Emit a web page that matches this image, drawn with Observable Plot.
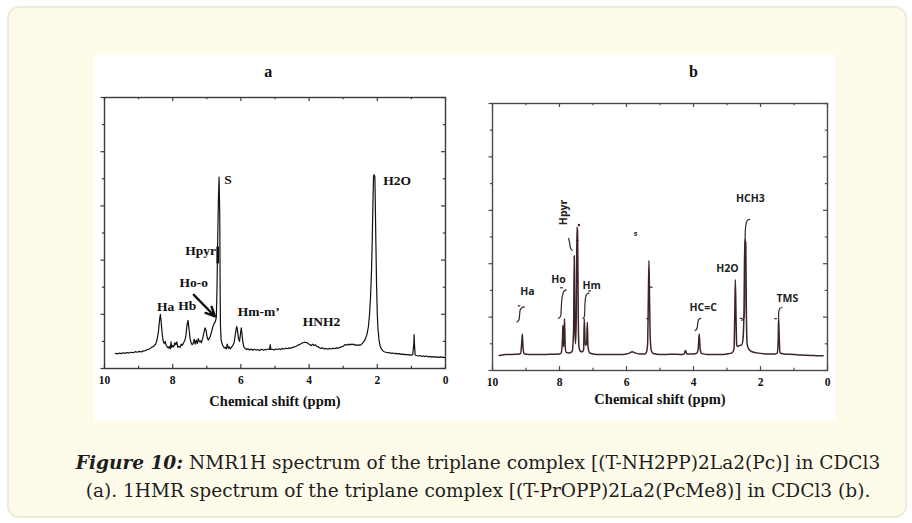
<!DOCTYPE html>
<html>
<head>
<meta charset="utf-8">
<script src="https://cdn.jsdelivr.net/npm/d3@7"></script>
<script src="https://cdn.jsdelivr.net/npm/@observablehq/plot@0.6"></script>
<style>
  html, body { margin: 0; padding: 0; background: #ffffff; }
  body { width: 912px; height: 523px; position: relative; overflow: hidden; }
  #box { position: absolute; left: 7px; top: 6px; width: 900px; height: 512px; box-sizing: border-box;
         background: #fffbea; border: 2px solid #eeebde; border-radius: 12px; }
  #panel { position: absolute; left: 94px; top: 55px; width: 741px; height: 366px; background: #ffffff; }
  #pa { position: absolute; left: 94px; top: 55px; }
  #pb { position: absolute; left: 464px; top: 55px; }
  #cap { position: absolute; left: 0px; width: 956px; top: 449px; text-align: center; color: #1e1e1e;
         font-family: "DejaVu Serif", serif; font-size: 17px; line-height: 28px; }
  #cap div { white-space: nowrap; }
</style>
</head>
<body>
<div id="box"></div>
<div id="panel"></div>
<div id="pa"></div>
<div id="pb"></div>
<div id="cap">
  <div id="l1"><b><i>Figure 10:</i></b> NMR1H spectrum of the triplane complex [(T-NH2PP)2La2(Pc)] in CDCl3</div>
  <div id="l2">(a). 1HMR spectrum of the triplane complex [(T-PrOPP)2La2(PcMe8)] in CDCl3 (b).</div>
</div>
<script>
// ---------- shared axis data ----------
const xMajor = [10, 8, 6, 4, 2, 0];
const xMinor = [9, 7, 5, 3, 1];
const yMajor = [0, 2, 4, 6, 8, 10];
const yMinor = [1, 3, 5, 7, 9];
const axisTitle = "Chemical shift (ppm)";

// ---------- panel a: spectrum ----------
const ppmA = [9.68,9.62,9.56,9.50,9.45,9.40,9.34,9.28,9.22,9.16,9.10,9.04,8.98,8.92,8.86,8.80,8.74,8.68,8.62,8.56,
8.50,8.46,8.42,8.38,8.36,8.34,8.31,8.28,8.25,8.22,8.19,8.16,8.13,8.10,8.07,8.05,8.03,8.00,7.97,7.94,
7.91,7.88,7.85,7.82,7.78,7.75,7.72,7.68,7.64,7.61,7.58,7.55,7.52,7.49,7.46,7.43,7.40,7.37,7.34,7.31,
7.28,7.25,7.22,7.19,7.16,7.12,7.08,7.05,7.02,6.99,6.96,6.93,6.90,6.86,6.82,6.78,6.75,6.72,6.70,6.68,
6.66,6.64,6.62,6.61,6.60,6.58,6.55,6.52,6.49,6.46,6.43,6.40,6.37,6.34,6.31,6.28,6.24,6.20,6.17,6.14,
6.12,6.10,6.07,6.04,6.02,5.99,5.97,5.94,5.91,5.87,5.83,5.79,5.75,5.70,5.65,5.60,5.55,5.50,5.45,5.40,
5.35,5.30,5.25,5.20,5.16,5.14,5.12,5.08,5.03,4.98,4.93,4.88,4.83,4.78,4.73,4.68,4.63,4.58,4.53,4.48,
4.43,4.38,4.33,4.28,4.23,4.18,4.13,4.08,4.03,3.98,3.94,3.90,3.86,3.82,3.78,3.74,3.70,3.65,3.60,3.55,
3.50,3.45,3.40,3.35,3.30,3.25,3.20,3.15,3.10,3.05,3.00,2.95,2.90,2.86,2.82,2.78,2.74,2.70,2.66,2.62,
2.58,2.54,2.50,2.46,2.42,2.38,2.34,2.30,2.26,2.23,2.20,2.17,2.15,2.13,2.11,2.09,2.07,2.06,2.04,2.02,
2.00,1.98,1.95,1.92,1.88,1.84,1.80,1.75,1.70,1.65,1.60,1.55,1.50,1.45,1.40,1.35,1.30,1.25,1.20,1.15,
1.10,1.05,1.00,0.96,0.93,0.92,0.91,0.89,0.85,0.80,0.75,0.70,0.65,0.60,0.55,0.50,0.45,0.40,0.35,0.30,
0.25,0.20,0.15,0.10,0.05,0.03];
const intA = [0.56,0.54,0.57,0.55,0.58,0.56,0.59,0.57,0.60,0.58,0.62,0.60,0.63,0.61,0.65,0.66,0.70,0.72,0.78,0.82,
0.90,1.05,1.35,1.85,2.00,1.75,1.30,1.02,0.92,1.00,0.85,0.80,0.75,0.82,0.72,0.98,0.78,0.85,0.80,0.95,
0.88,0.98,0.78,0.82,0.78,0.90,0.85,0.95,1.05,1.25,1.60,1.78,1.45,1.10,0.95,0.88,0.92,1.08,0.90,1.05,
0.92,1.10,0.98,1.02,0.95,1.12,1.35,1.50,1.40,1.15,1.05,1.10,1.18,1.35,1.55,1.68,1.72,1.90,3.00,4.80,
6.20,7.06,5.60,3.20,1.60,1.05,0.90,0.82,0.76,0.78,0.72,0.90,0.74,0.80,0.72,0.78,0.84,0.95,1.20,1.45,
1.55,1.40,1.10,1.00,1.20,1.50,1.30,0.95,0.78,0.74,0.70,0.73,0.68,0.72,0.67,0.71,0.68,0.70,0.66,0.71,
0.68,0.70,0.69,0.72,0.70,0.88,0.70,0.71,0.68,0.72,0.70,0.73,0.70,0.74,0.72,0.75,0.73,0.76,0.75,0.78,
0.80,0.82,0.86,0.88,0.92,0.95,0.97,0.96,0.92,0.88,0.84,0.90,0.85,0.88,0.82,0.80,0.77,0.74,0.76,0.72,
0.74,0.71,0.74,0.72,0.75,0.73,0.76,0.75,0.78,0.80,0.82,0.88,0.86,0.90,0.87,0.90,0.88,0.90,0.86,0.88,
0.85,0.87,0.86,0.90,0.95,1.02,1.12,1.28,1.55,1.95,2.60,3.60,4.60,6.00,7.10,7.15,7.05,6.20,4.50,3.00,
2.00,1.45,1.05,0.85,0.72,0.66,0.62,0.60,0.58,0.59,0.56,0.57,0.55,0.56,0.54,0.55,0.52,0.53,0.51,0.52,
0.50,0.51,0.49,0.52,0.90,1.25,0.90,0.50,0.48,0.46,0.48,0.45,0.46,0.44,0.46,0.43,0.45,0.42,0.44,0.42,
0.43,0.41,0.43,0.41,0.42,0.40];

// panel a annotations
const labA = ["Ha", "Hb", "Ho-o", "Hpyr", "S", "Hm-m\u2019", "HNH2", "H2O"];
const labAx = [8.21, 7.57, 7.38, 7.18, 6.38, 5.48, 3.64, 1.42];
const labAy = [2.29, 2.32, 3.15, 4.35, 6.96, 2.08, 1.73, 6.94];
const arrowA = {x1: 7.38, y1: 2.72, x2: 6.76, y2: 1.92};
const barA = {x: 6.68, y1: 3.86, y2: 4.48};

// ---------- panel b: spectrum ----------
const ppmB = [9.80,9.70,9.60,9.50,9.40,9.30,9.20,9.16,9.13,9.11,9.09,9.06,9.00,8.80,8.60,8.40,8.20,8.00,7.95,7.91,
7.90,7.88,7.86,7.85,7.83,7.80,7.70,7.62,7.58,7.56,7.54,7.52,7.50,7.48,7.46,7.44,7.42,7.38,7.32,7.28,
7.26,7.23,7.19,7.17,7.15,7.10,7.00,6.80,6.60,6.40,6.20,6.00,5.90,5.83,5.75,5.60,5.45,5.40,5.37,5.35,
5.33,5.31,5.29,5.26,5.20,5.00,4.80,4.60,4.40,4.28,4.24,4.20,4.00,3.90,3.86,3.83,3.80,3.76,3.60,3.40,
3.20,3.00,2.85,2.79,2.77,2.75,2.73,2.71,2.68,2.62,2.56,2.52,2.49,2.47,2.44,2.42,2.40,2.35,2.25,2.10,
1.90,1.70,1.55,1.50,1.47,1.46,1.44,1.42,1.30,1.00,0.80,0.60,0.40,0.20,0.13];
const intB = [0.56,0.58,0.60,0.60,0.60,0.61,0.62,0.64,1.00,1.37,0.90,0.64,0.61,0.60,0.60,0.60,0.61,0.62,0.66,1.20,
1.69,0.90,1.50,1.94,0.90,0.68,0.66,0.72,1.50,4.30,1.50,1.00,2.00,5.37,5.20,2.00,0.90,0.72,0.70,0.78,
1.94,0.95,1.00,1.81,0.90,0.66,0.62,0.60,0.60,0.60,0.60,0.62,0.66,0.70,0.66,0.62,0.62,0.70,1.00,2.50,
4.12,2.50,1.20,0.75,0.64,0.60,0.60,0.61,0.60,0.62,0.75,0.62,0.62,0.65,0.80,1.37,0.80,0.64,0.60,0.60,
0.60,0.62,0.66,0.80,2.00,3.40,2.00,0.95,0.90,0.94,0.96,1.20,2.50,4.90,4.80,2.00,1.00,0.80,0.70,0.66,
0.63,0.62,0.62,0.66,1.20,2.00,1.20,0.66,0.62,0.60,0.58,0.57,0.56,0.55,0.55];

// panel b integral curves (ppm, intensity) grouped by peak
const intgName = ["Ha","Ha","Ha","Ha","Ha","Ha",
  "Ho","Ho","Ho","Ho","Ho","Ho",
  "Hpyr","Hpyr","Hpyr","Hpyr",
  "Hm","Hm","Hm","Hm","Hm","Hm",
  "HC","HC","HC","HC","HC",
  "CH3","CH3","CH3","CH3","CH3","CH3","CH3","CH3",
  "TMS","TMS","TMS","TMS"];
const intgX = [9.27,9.21,9.19,9.17,9.11,9.05,
  8.03,7.97,7.95,7.92,7.87,7.80,
  7.73,7.70,7.67,7.62,
  7.30,7.26,7.24,7.21,7.17,7.12,
  3.95,3.90,3.87,3.84,3.78,
  2.56,2.50,2.47,2.46,2.45,2.42,2.37,2.32,
  1.46,1.45,1.42,1.36];
const intgY = [1.82,1.90,2.10,2.28,2.36,2.38,
  1.95,2.02,2.30,2.75,2.96,3.02,
  4.95,4.80,4.58,4.50,
  1.94,2.02,2.50,2.80,2.88,2.90,
  1.50,1.56,1.80,1.92,1.95,
  1.88,1.95,2.30,4.00,5.30,5.55,5.65,5.66,
  2.00,2.22,2.33,2.36];
// small integral tick marks (short dashes)
const dashX = [9.21, 7.94, 7.47, 7.52, 7.10, 5.26, 5.37, 2.58, 1.55];
const dashY = [2.42, 3.10, 4.87, 1.95, 2.98, 3.12, 1.94, 1.95, 1.94];
const dotB = {x: 7.42, y: 5.45};

const labB = ["Ha", "Ho", "Hm", "HC=C", "H2O", "HCH3", "TMS"];
const labBx = [8.96, 8.03, 7.04, 3.71, 2.99, 2.30, 1.20];
const labBy = [2.96, 3.41, 3.18, 2.35, 3.81, 6.43, 2.69];
const labBrot = {text: "Hpyr", x: 7.88, y: 5.92};
const labBs = {text: "s", x: 5.73, y: 5.13};

// ---------- helpers ----------
const serif = "Liberation Serif, Times New Roman, serif";

function frameMarks(pxPerX, pxPerY, stroke) {
  const Lmaj = 4, Lmin = 2.2;
  const ymaj = Lmaj / pxPerY, ymin = Lmin / pxPerY;
  const xmaj = Lmaj / pxPerX, xmin = Lmin / pxPerX;
  const xo = 3.5 / pxPerX;
  const s = {stroke, strokeWidth: 1.2};
  return [
    Plot.frame({stroke, strokeWidth: 1.4}),
    Plot.ruleX(xMajor, {x: d => d, y1: 10, y2: 10 - ymaj, ...s}),
    Plot.ruleX(xMinor, {x: d => d, y1: 10, y2: 10 - ymin, ...s}),
    Plot.ruleX(xMajor, {x: d => d, y1: 0, y2: ymaj, ...s}),
    Plot.ruleX(xMinor, {x: d => d, y1: 0, y2: ymin, ...s}),
    Plot.ruleY(yMajor, {y: d => d, x1: 10, x2: 10 + xo, ...s}),
    Plot.ruleY(yMinor, {y: d => d, x1: 10, x2: 10 + xo * 0.6, ...s}),
    Plot.ruleY(yMajor, {y: d => d, x1: 0, x2: xmaj, ...s}),
    Plot.ruleY(yMinor, {y: d => d, x1: 0, x2: xmin, ...s}),
    Plot.text(xMajor, {x: d => d, frameAnchor: "bottom", dy: 15, text: d => String(d),
      fontFamily: serif, fontWeight: "bold", fontSize: 11.5, fill: "#111"}),
  ];
}

// ---------- panel a ----------
const dataA = ppmA.map((x, i) => ({x, y: intA[i]}));
const annA = labA.map((t, i) => ({t, x: labAx[i], y: labAy[i]}));

const plotA = Plot.plot({
  width: 370, height: 366,
  marginLeft: 10, marginRight: 19, marginTop: 42, marginBottom: 53,
  x: {domain: [10, 0], axis: null},
  y: {domain: [0, 10], axis: null},
  style: {background: "transparent", overflow: "visible"},
  marks: [
    ...frameMarks(34.1, 27.1, "#3a3a3a"),
    Plot.line(dataA, {x: "x", y: "y", stroke: "#111", strokeWidth: 1.2, curve: "linear"}),
    Plot.ruleX([barA], {x: "x", y1: "y1", y2: "y2", stroke: "#111", strokeWidth: 2.6}),
    Plot.arrow([arrowA], {x1: "x1", y1: "y1", x2: "x2", y2: "y2", stroke: "#111", strokeWidth: 2.4,
      headLength: 8, headAngle: 50}),
    Plot.text(annA, {x: "x", y: "y", text: "t", fontFamily: serif, fontWeight: "bold", fontSize: 13.5, fill: "#111"}),
    Plot.text(["a"], {x: 5.2, frameAnchor: "top", dy: -32, text: d => d,
      fontFamily: serif, fontWeight: "bold", fontSize: 16, fill: "#111"}),
    Plot.text([axisTitle], {x: 5.0, frameAnchor: "bottom", dy: 37, text: d => d,
      fontFamily: serif, fontWeight: "bold", fontSize: 14.5, fill: "#111"}),
  ]
});
document.getElementById("pa").appendChild(plotA);

// ---------- panel b ----------
const dataB = ppmB.map((x, i) => ({x, y: intB[i]}));
const intgB = intgX.map((x, i) => ({g: intgName[i], x, y: intgY[i]}));
const dashB = dashX.map((x, i) => ({x1: x + 0.04, x2: x - 0.04, y: dashY[i]}));
const annB = labB.map((t, i) => ({t, x: labBx[i], y: labBy[i]}));
const lineCol = "#3d2427";
const sans = "Liberation Sans Narrow, Open Sans, sans-serif";

const plotB = Plot.plot({
  width: 371, height: 366,
  marginLeft: 28, marginRight: 8, marginTop: 48, marginBottom: 51,
  x: {domain: [10, 0], axis: null},
  y: {domain: [0, 10], axis: null},
  style: {background: "transparent", overflow: "visible"},
  marks: [
    ...frameMarks(33.5, 26.7, "#4a4a4a"),
    Plot.line(dataB, {x: "x", y: "y", stroke: lineCol, strokeWidth: 1.5, curve: "monotone-x"}),
    Plot.line(intgB, {x: "x", y: "y", z: "g", stroke: lineCol, strokeWidth: 1.2, curve: "catmull-rom"}),
    Plot.link(dashB, {x1: "x1", x2: "x2", y1: "y", y2: "y", stroke: lineCol, strokeWidth: 1.2}),
    Plot.dot([dotB], {x: "x", y: "y", r: 1.2, fill: lineCol}),
    Plot.text(annB, {x: "x", y: "y", text: "t", fontFamily: sans, fontWeight: "bold", fontSize: 10.5, fill: "#222"}),
    Plot.text([labBrot], {x: "x", y: "y", text: "text", rotate: -90, fontFamily: sans, fontWeight: "bold", fontSize: 10.5, fill: "#222"}),
    Plot.text([labBs], {x: "x", y: "y", text: "text", fontFamily: sans, fontWeight: "bold", fontSize: 7.5, fill: "#222"}),
    Plot.text(["b"], {x: 4.0, frameAnchor: "top", dy: -38, text: d => d,
      fontFamily: serif, fontWeight: "bold", fontSize: 16, fill: "#111"}),
    Plot.text([axisTitle], {x: 5.0, frameAnchor: "bottom", dy: 33, text: d => d,
      fontFamily: serif, fontWeight: "bold", fontSize: 14.5, fill: "#111"}),
  ]
});
document.getElementById("pb").appendChild(plotB);

// ---------- caption fit ----------
(function fit() {
  const l1 = document.getElementById("l1");
  const span = document.createElement("span");
  span.innerHTML = l1.innerHTML;
  span.style.whiteSpace = "nowrap";
  l1.innerHTML = "";
  l1.appendChild(span);
  const w = span.getBoundingClientRect().width;
  const target = 805;
  const fs = 17 * target / w;
  document.getElementById("cap").style.fontSize = fs.toFixed(2) + "px";
})();
</script>
</body>
</html>
